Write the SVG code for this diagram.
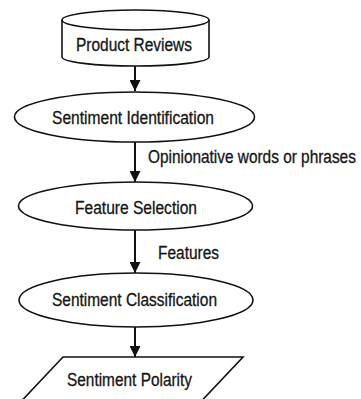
<svg xmlns="http://www.w3.org/2000/svg" width="361" height="399" viewBox="0 0 361 399">
<defs>
<style>
.shape{fill:#fff;stroke:#111;stroke-width:1.6}
.t{font-family:"Liberation Sans",Arial,sans-serif;font-size:17.5px;fill:#151515;stroke:#151515;stroke-width:0.3}
.edge{stroke:#111;stroke-width:2;fill:none}
</style>
<marker id="ah" viewBox="0 0 10 10" refX="10" refY="5" markerWidth="11" markerHeight="11" markerUnits="userSpaceOnUse" orient="auto">
<path d="M0,0 L10,5 L0,10 Z" fill="#111"/>
</marker>
</defs>
<rect width="361" height="399" fill="#fff"/>
<g id="connectors">
<line class="edge" x1="135" y1="65" x2="135" y2="91" marker-end="url(#ah)"/>
<line class="edge" x1="135" y1="142" x2="135" y2="182" marker-end="url(#ah)"/>
<line class="edge" x1="135" y1="230" x2="135" y2="273" marker-end="url(#ah)"/>
<line class="edge" x1="135" y1="327" x2="135" y2="357" marker-end="url(#ah)"/>
<text class="t" transform="translate(148,163) scale(0.88,1)" x="0" y="0">Opinionative words or phrases</text>
<text class="t" x="158" y="258.5" textLength="61" lengthAdjust="spacingAndGlyphs">Features</text>
</g>
<g id="product-reviews">
<path class="shape" d="M62,20 L62,57 A73.5,9 0 0 0 209,57 L209,20"/>
<ellipse class="shape" cx="135.5" cy="20" rx="73.5" ry="10"/>
<text class="t" x="76" y="51" textLength="116" lengthAdjust="spacingAndGlyphs">Product Reviews</text>
</g>
<g id="sentiment-identification">
<ellipse class="shape" cx="134.5" cy="117" rx="120" ry="25"/>
<text class="t" x="52" y="124" textLength="162" lengthAdjust="spacingAndGlyphs">Sentiment Identification</text>
</g>
<g id="feature-selection">
<ellipse class="shape" cx="135.5" cy="206" rx="117" ry="24"/>
<text class="t" x="75" y="213.5" textLength="122" lengthAdjust="spacingAndGlyphs">Feature Selection</text>
</g>
<g id="sentiment-classification">
<ellipse class="shape" cx="136" cy="300" rx="117" ry="27"/>
<text class="t" x="52" y="305.5" textLength="165" lengthAdjust="spacingAndGlyphs">Sentiment Classification</text>
</g>
<g id="sentiment-polarity">
<polygon class="shape" points="63,357 243,357 193,410 13,410"/>
<text class="t" x="67" y="386" textLength="125" lengthAdjust="spacingAndGlyphs">Sentiment Polarity</text>
</g>
</svg>
